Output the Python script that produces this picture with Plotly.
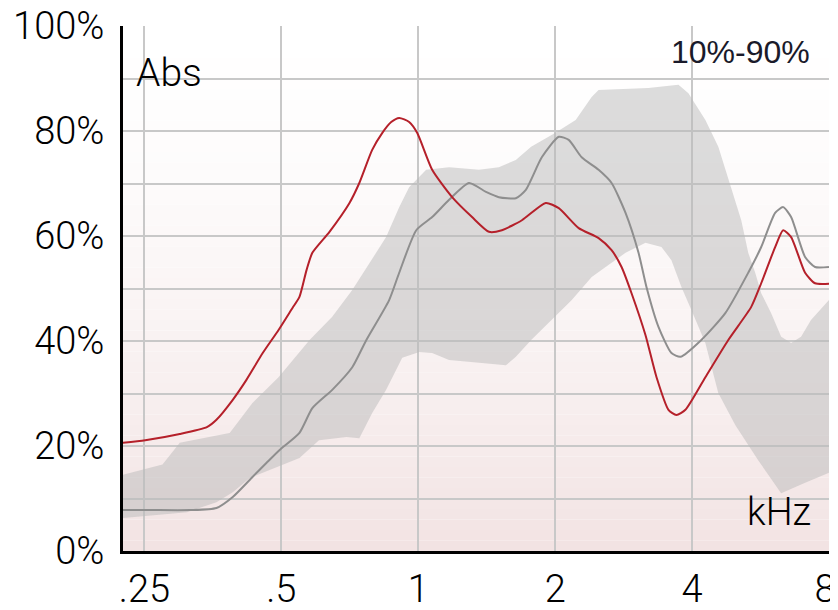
import math
import plotly.graph_objects as go

# ---------------- data ----------------
red_f = [0.224, 0.251, 0.299, 0.343, 0.360, 0.391, 0.419, 0.455, 0.493, 0.529, 0.548, 0.568,
         0.585, 0.638, 0.706, 0.742, 0.792, 0.833, 0.872, 0.908, 0.955, 0.995, 1.073, 1.187,
         1.313, 1.430, 1.527, 1.690, 1.907, 2.037, 2.253, 2.492, 2.661, 2.799, 2.944, 3.160,
         3.341, 3.549, 3.695, 3.867, 4.278, 4.805, 5.396, 5.676, 6.091, 6.343, 6.604, 7.088,
         7.454, 8.0]
red_v = [20.6, 21.1, 22.3, 23.6, 25.0, 28.8, 32.6, 37.7, 42.1, 46.3, 48.4, 53.5,
         56.8, 60.8, 66.3, 70.1, 76.4, 79.6, 81.7, 82.5, 81.7, 79.6, 72.6, 67.4,
         63.6, 60.8, 61.1, 63.0, 66.3, 65.3, 61.5, 59.6, 57.3, 54.1, 49.1, 41.1,
         33.1, 26.9, 25.9, 26.9, 33.1, 40.2, 46.5, 51.0, 57.9, 61.1, 59.8, 53.0,
         51.0, 50.9]

gray_f = [0.224, 0.257, 0.315, 0.360, 0.391, 0.432, 0.464, 0.495, 0.548, 0.585, 0.647,
          0.716, 0.769, 0.863, 0.908, 0.990, 1.073, 1.169, 1.293, 1.409, 1.504, 1.639,
          1.724, 1.869, 2.037, 2.142, 2.287, 2.492, 2.661, 2.856, 3.050, 3.175, 3.374,
          3.603, 3.771, 4.192, 4.732, 5.315, 5.676, 6.091, 6.343, 6.604, 7.088, 7.454, 8.0]
gray_v = [7.8, 7.8, 7.8, 8.2, 10.3, 14.1, 16.8, 19.2, 22.5, 27.2, 30.7,
          35.0, 40.2, 47.8, 53.0, 61.1, 63.6, 66.9, 70.1, 68.4, 67.4, 67.2,
          68.8, 75.0, 78.9, 78.3, 75.0, 72.6, 70.1, 64.4, 56.8, 50.3, 42.7,
          37.7, 37.0, 40.2, 45.3, 53.0, 57.9, 64.4, 65.5, 63.6, 56.0, 54.1, 54.1]

# 10%-90% range band
band_hi_f = [0.224, 0.274, 0.299, 0.385, 0.432, 0.493, 0.577, 0.647, 0.716, 0.850, 0.908,
             0.955, 1.041, 1.169, 1.360, 1.504, 1.639, 1.771, 1.999, 2.219, 2.406, 2.492,
             3.208, 3.733, 3.926, 4.278, 4.568, 4.878, 5.130, 5.315, 5.506, 5.676, 5.969,
             6.279, 6.604, 6.945, 7.304, 8.0]
band_hi_v = [14.5, 16.5, 20.6, 22.5, 28.2, 33.1, 40.2, 44.6, 49.7, 59.8, 65.5,
             69.3, 72.6, 73.1, 72.6, 73.1, 74.5, 77.0, 79.6, 82.1, 86.5, 87.8,
             88.2, 88.8, 87.2, 82.1, 77.0, 69.3, 63.0, 56.8, 53.0, 49.1, 45.3,
             40.8, 39.6, 40.8, 44.0, 47.8]
band_lo_f = [0.224, 0.270, 0.310, 0.360, 0.391, 0.426, 0.488, 0.548, 0.605, 0.695, 0.742,
             0.792, 0.850, 0.922, 1.005, 1.073, 1.169, 1.381, 1.559, 1.639, 1.771, 1.966,
             2.175, 2.406, 2.582, 2.856, 3.160, 3.426, 3.603, 3.790, 3.986, 4.278, 4.568,
             4.977, 5.590, 6.279, 7.088, 8.0]
band_lo_v = [6.3, 6.9, 7.4, 9.3, 11.2, 13.9, 16.0, 17.7, 21.1, 21.7, 21.5,
             26.3, 30.7, 36.8, 37.9, 37.7, 36.4, 35.8, 35.4, 37.0, 40.2, 44.0,
             47.8, 52.2, 54.1, 56.8, 58.7, 57.9, 55.4, 50.3, 45.9, 39.6, 30.1,
             24.0, 17.3, 11.0, 13.0, 14.9]

x_ticks = [0.25, 0.5, 1, 2, 4, 8]
# the last label sits on the right edge; a trailing thin space nudges it inward
x_tick_text = ['.25', '.5', '1', '2', '4', '8\u2009']
y_ticks = list(range(0, 101, 10))
y_tick_text = [f'{v}%' if v % 20 == 0 else '' for v in y_ticks]
x_range = [0.2243, 8.0]

# ---------------- figure ----------------
fig = go.Figure()

fig.add_trace(go.Scatter(
    x=band_hi_f + band_lo_f[::-1], y=band_hi_v + band_lo_v[::-1],
    fill='toself', fillcolor='rgba(185,185,185,0.50)', mode='lines',
    line=dict(width=0), hoverinfo='skip', showlegend=False))
fig.add_trace(go.Scatter(
    x=gray_f, y=gray_v, mode='lines',
    line=dict(color='#8e8e8e', width=2, shape='spline', smoothing=0.6),
    showlegend=False))
fig.add_trace(go.Scatter(
    x=red_f, y=red_v, mode='lines',
    line=dict(color='#b5202a', width=2, shape='spline', smoothing=0.6),
    showlegend=False))

# vertical background gradient (pink at bottom -> white at top)
shapes = []
n = 50
for i in range(n):
    t = (i + 0.5) / n
    p = (1 - t) ** 1.5
    r = round(255 - 13 * p)
    g = round(255 - 28 * p)
    shapes.append(dict(type='rect', xref='x domain', yref='y',
                       x0=0, x1=1, y0=i * 100 / n, y1=(i + 1) * 100 / n,
                       fillcolor=f'rgb({r},{g},{g})', line=dict(width=0),
                       layer='below'))

font_family = 'Roboto'
# the page body has an 8px default margin, so the figure is sized/offset for it
fig.update_layout(
    width=830, height=602,
    margin=dict(l=115, r=9, t=18, b=59, autoexpand=False),
    paper_bgcolor='white', plot_bgcolor='white',
    shapes=shapes,
    font=dict(family=font_family, color='black', size=38),
    xaxis=dict(type='log', range=[math.log10(x_range[0]), math.log10(x_range[1])],
               tickvals=x_ticks, ticktext=x_tick_text, automargin=False,
               ticklabeloverflow='allow',
               showgrid=True, gridcolor='rgb(200,200,200)', gridwidth=2,
               showline=True, linecolor='black', linewidth=3,
               ticks='', ticklabelstandoff=2, zeroline=False,
               tickfont=dict(family=font_family, size=38, weight=300)),
    yaxis=dict(range=[0, 100], tickvals=y_ticks, ticktext=y_tick_text,
               automargin=False, ticklabeloverflow='allow',
               showgrid=True, gridcolor='rgb(200,200,200)', gridwidth=2,
               showline=True, linecolor='black', linewidth=3,
               ticks='', ticklabelstandoff=8, zeroline=False,
               tickfont=dict(family=font_family, size=38, weight=300)),
    annotations=[
        dict(text='Abs', xref='x domain', yref='y domain', x=0.016, y=0.91,
             xanchor='left', yanchor='middle', showarrow=False,
             font=dict(family=font_family, size=39, weight=300)),
        dict(text='10%-90%', xref='x domain', yref='y domain', x=0.976, y=0.951,
             xanchor='right', yanchor='middle', showarrow=False,
             font=dict(family='Liberation Sans', size=32, color='#1a1a2a')),
        dict(text='kHz', xref='x domain', yref='y domain', x=0.978, y=0.074,
             xanchor='right', yanchor='middle', showarrow=False,
             font=dict(family=font_family, size=38, weight=300)),
    ],
)

fig.write_html('out.html')
